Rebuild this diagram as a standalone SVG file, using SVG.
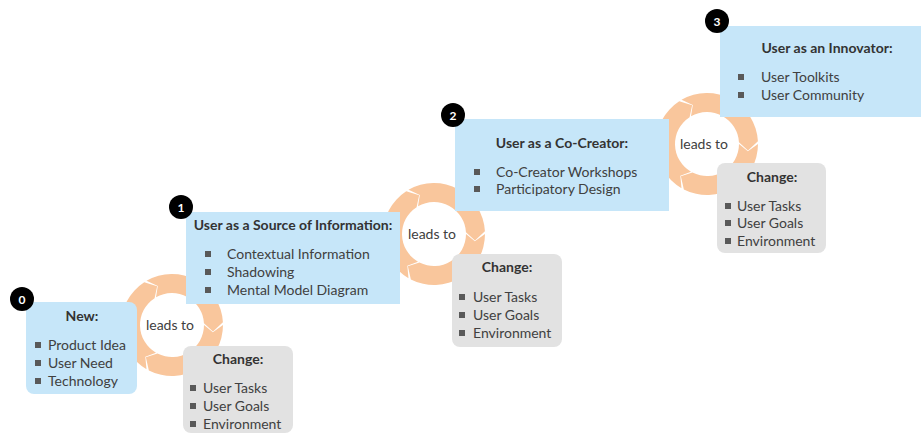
<svg xmlns="http://www.w3.org/2000/svg" width="921" height="434" viewBox="0 0 921 434">
<style>
.blue{fill:#c6e6f9}
.gray{fill:#e2e2e2}
.ring{fill:#f9c69c}
.t{font-family:Lato,"Open Sans","Liberation Sans",sans-serif;font-size:14px;fill:#404040}
.b{font-weight:bold;text-anchor:middle;fill:#333333}
.c{text-anchor:middle}
.bul{fill:#595959}
.badge{fill:#000000}
.num{font-family:Lato,"Liberation Sans",sans-serif;font-size:12px;font-weight:bold;fill:#ffffff;text-anchor:middle}
</style>
<defs>
<path id="seg" d="M -25.5 -44.17 A 51 51 0 0 1 50.92 -2.67 L 40.97 6.49 L 31.96 -1.67 A 32 32 0 0 0 -16 -27.71 L -14.19 -39.00 Z"/>
<g id="cycle">
<use href="#seg" class="ring"/>
<use href="#seg" class="ring" transform="rotate(120)"/>
<use href="#seg" class="ring" transform="rotate(240)"/>
</g>
</defs>
<g id="connectors">
<g id="cycle1" transform="translate(172,325)"><use href="#cycle"/><text class="t c" x="-2" y="5">leads to</text></g>
<g id="cycle2" transform="translate(434,234)"><use href="#cycle"/><text class="t c" x="-2" y="5">leads to</text></g>
<g id="cycle3" transform="translate(707,144)"><use href="#cycle"/><text class="t c" x="-3" y="5">leads to</text></g>
</g>
<g id="node0">
<rect class="blue" x="26" y="302" width="111" height="92" rx="8"/>
<text class="t b" x="82" y="321">New:</text>
<rect class="bul" x="35" y="342" width="6" height="6"/><text class="t" x="48" y="350">Product Idea</text>
<rect class="bul" x="35" y="360" width="6" height="6"/><text class="t" x="48" y="368">User Need</text>
<rect class="bul" x="35" y="378" width="6" height="6"/><text class="t" x="48" y="386">Technology</text>
<circle class="badge" cx="22" cy="299" r="12"/><text class="num" x="22" y="303.5">0</text>
</g>
<g id="change1">
<rect class="gray" x="183" y="346" width="110" height="87" rx="8"/>
<text class="t b" x="238" y="364">Change:</text>
<rect class="bul" x="190" y="385" width="6" height="6"/><text class="t" x="203" y="393">User Tasks</text>
<rect class="bul" x="190" y="403" width="6" height="6"/><text class="t" x="203" y="411">User Goals</text>
<rect class="bul" x="190" y="421" width="6" height="6"/><text class="t" x="203" y="429">Environment</text>
</g>
<g id="node1">
<rect class="blue" x="186" y="212" width="214" height="92"/>
<text class="t b" x="293" y="230">User as a Source of Information:</text>
<rect class="bul" x="205" y="251" width="6" height="6"/><text class="t" x="227" y="259">Contextual Information</text>
<rect class="bul" x="205" y="269" width="6" height="6"/><text class="t" x="227" y="277">Shadowing</text>
<rect class="bul" x="205" y="287" width="6" height="6"/><text class="t" x="227" y="295">Mental Model Diagram</text>
<circle class="badge" cx="181" cy="207" r="12"/><text class="num" x="181" y="211.5">1</text>
</g>
<g id="change2">
<rect class="gray" x="452" y="254" width="110" height="93" rx="8"/>
<text class="t b" x="507" y="272">Change:</text>
<rect class="bul" x="459" y="294" width="6" height="6"/><text class="t" x="473" y="302">User Tasks</text>
<rect class="bul" x="459" y="312" width="6" height="6"/><text class="t" x="473" y="320">User Goals</text>
<rect class="bul" x="459" y="330" width="6" height="6"/><text class="t" x="473" y="338">Environment</text>
</g>
<g id="node2">
<rect class="blue" x="455" y="119" width="214" height="92"/>
<text class="t b" x="562" y="148">User as a Co-Creator:</text>
<rect class="bul" x="474" y="169" width="6" height="6"/><text class="t" x="496" y="177">Co-Creator Workshops</text>
<rect class="bul" x="474" y="186" width="6" height="6"/><text class="t" x="496" y="194">Participatory Design</text>
<circle class="badge" cx="453" cy="115" r="12"/><text class="num" x="453" y="119.5">2</text>
</g>
<g id="change3">
<rect class="gray" x="717" y="163" width="109" height="90" rx="8"/>
<text class="t b" x="772" y="182">Change:</text>
<rect class="bul" x="725" y="203" width="6" height="6"/><text class="t" x="737" y="211">User Tasks</text>
<rect class="bul" x="725" y="220" width="6" height="6"/><text class="t" x="737" y="228">User Goals</text>
<rect class="bul" x="725" y="238" width="6" height="6"/><text class="t" x="737" y="246">Environment</text>
</g>
<g id="node3">
<rect class="blue" x="720" y="26" width="201" height="91"/>
<text class="t b" x="827" y="53">User as an Innovator:</text>
<rect class="bul" x="738" y="74" width="6" height="6"/><text class="t" x="761" y="82">User Toolkits</text>
<rect class="bul" x="738" y="92" width="6" height="6"/><text class="t" x="761" y="100">User Community</text>
<circle class="badge" cx="717" cy="21" r="12"/><text class="num" x="717" y="25.5">3</text>
</g>
</svg>
